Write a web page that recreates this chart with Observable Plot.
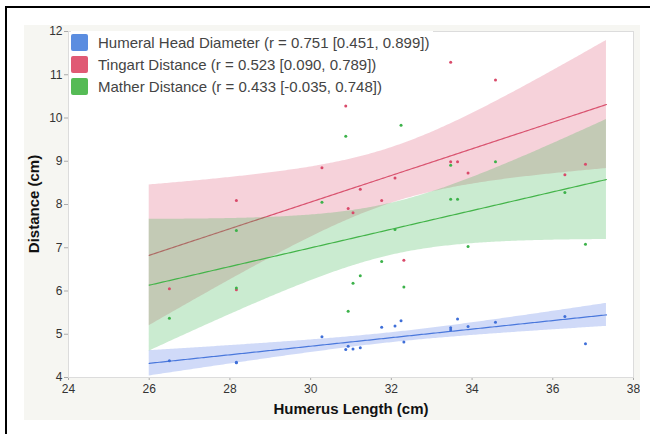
<!DOCTYPE html>
<html>
<head>
<meta charset="utf-8">
<script src="https://cdn.jsdelivr.net/npm/d3@7"></script>
<script src="https://cdn.jsdelivr.net/npm/@observablehq/plot@0.6"></script>
<style>
  html, body { margin: 0; padding: 0; background: #fff; }
  body { width: 650px; height: 434px; position: relative; overflow: hidden; font-family: "Liberation Sans", Arial, Helvetica, sans-serif; }
  #border { position: absolute; left: 5px; top: 6px; width: 700px; height: 500px; border-left: 2.5px solid #000; border-top: 2.5px solid #000; }
  #panel { position: absolute; left: 24px; top: 25px; width: 616px; height: 395px; background: #f6f6f2; }
  #chart { position: absolute; left: 24px; top: 25px; }
  #chart svg [aria-label="x-axis tick"], #chart svg [aria-label="y-axis tick"] { stroke: #aaa; }
  #chart svg .tick line { stroke: #aaa; }
  #legend { position: absolute; left: 71px; top: 31px; background: #fff; padding-right: 4px; }
  .row { display: flex; align-items: center; height: 22px; font-size: 15px; color: #444; }
  .sw { width: 17px; height: 17px; border-radius: 2px; margin-right: 10px; }
  #ytitle { position: absolute; left: 33px; top: 204px; transform: translate(-50%, -50%) rotate(-90deg); font-weight: bold; font-size: 15px; color: #111; white-space: nowrap; }
  #xtitle { position: absolute; left: 351px; top: 408px; transform: translate(-50%, -50%); font-weight: bold; font-size: 15px; color: #111; white-space: nowrap; }
</style>
</head>
<body>
<div id="border"></div>
<div id="panel"></div>
<div id="chart"></div>
<div id="ytitle">Distance (cm)</div>
<div id="xtitle">Humerus Length (cm)</div>
<div id="legend"></div>
<script>
// ---- data ----
const humerusLength = [26.50, 28.16, 28.16, 30.28, 30.87, 30.93, 31.05, 31.23, 31.76, 32.09, 32.24, 32.31, 33.47, 33.47, 33.64, 33.90, 34.58, 36.30, 36.81];
const humeralHead   = [4.39, 4.34, 4.35, 4.94, 4.65, 4.72, 4.66, 4.69, 5.16, 5.19, 5.31, 4.82, 5.15, 5.10, 5.35, 5.18, 5.28, 5.41, 4.78];
const tingart       = [6.05, 8.09, 6.03, 8.85, 10.28, 7.91, 7.81, 8.35, 8.09, 8.61, 11.40, 6.71, 11.29, 8.99, 8.99, 8.73, 10.88, 8.69, 8.93];
const mather        = [5.37, 7.40, 6.07, 8.05, 9.58, 5.53, 6.18, 6.35, 6.68, 7.42, 9.83, 6.09, 8.91, 8.12, 8.12, 7.03, 8.99, 8.28, 7.08];

const seriesNames  = ["Humeral Head Diameter", "Tingart Distance", "Mather Distance"];
const seriesLabels = ["Humeral Head Diameter (r = 0.751 [0.451, 0.899])", "Tingart Distance (r = 0.523 [0.090, 0.789])", "Mather Distance (r = 0.433 [-0.035, 0.748])"];
const swatchColors = ["#5b8de0", "#e05a74", "#55bb55"];
const pointColors  = ["#3f6fd8", "#d94a6a", "#3cb24a"];
const lineColors   = ["#4a78dc", "#d9536f", "#44b44a"];
const bandColors   = ["#5078e6", "#dc5a78", "#3cb450"];
const xTicks = [24, 26, 28, 30, 32, 34, 36, 38];
const yTicks = [4, 5, 6, 7, 8, 9, 10, 11, 12];
const fitDomain = [26, 37.33];
const tCrit = 2.110; // t(0.975, df = 17)

const values = [humeralHead, tingart, mather];

// least-squares fit with 95% confidence band of the mean
function fitSeries(xs, ys, name) {
  const I = d3.range(xs.length).filter(i => ys[i] != null);
  const n = I.length;
  const mx = d3.mean(I, i => xs[i]), my = d3.mean(I, i => ys[i]);
  const sxx = d3.sum(I, i => (xs[i] - mx) ** 2);
  const sxy = d3.sum(I, i => (xs[i] - mx) * (ys[i] - my));
  const b = sxy / sxx, a = my - b * mx;
  const sse = d3.sum(I, i => (ys[i] - a - b * xs[i]) ** 2);
  const s = Math.sqrt(sse / (n - 2));
  const grid = d3.range(fitDomain[0], fitDomain[1], 0.05).concat([fitDomain[1]]);
  return grid.map(x => {
    const yh = a + b * x;
    const h = tCrit * s * Math.sqrt(1 / n + (x - mx) ** 2 / sxx);
    return {series: name, x, y: yh, lo: yh - h, hi: yh + h};
  });
}

const points = [];
values.forEach((ys, k) => ys.forEach((y, i) => { if (y != null) points.push({series: seriesNames[k], k, x: humerusLength[i], y}); }));
const fits = values.map((ys, k) => fitSeries(humerusLength, ys, seriesNames[k]));

const marks = [Plot.frame({fill: "#fff", stroke: "#dcdcdc"})];
fits.forEach((f, k) => {
  marks.push(Plot.areaY(f, {x: "x", y1: "lo", y2: "hi", fill: bandColors[k], fillOpacity: 0.27}));
  marks.push(Plot.line(f, {x: "x", y: "y", stroke: lineColors[k], strokeWidth: 1.2}));
});
marks.push(Plot.dot(points, {x: "x", y: "y", r: 1.5, fill: d => pointColors[d.k], stroke: "none"}));

const chart = Plot.plot({
  width: 616, height: 395,
  marginLeft: 44, marginRight: 7, marginTop: 6, marginBottom: 43,
  style: {background: "transparent", fontFamily: "'Liberation Sans', Arial, sans-serif", fontSize: "12px", color: "#333"},
  x: {domain: [24, 38], ticks: xTicks, tickSize: 3, tickPadding: 4, label: null},
  y: {domain: [4, 12], ticks: yTicks, tickSize: 4, tickPadding: 2, label: null},
  marks
});
document.getElementById("chart").appendChild(chart);

// legend
const lg = document.getElementById("legend");
seriesLabels.forEach((t, k) => {
  const row = document.createElement("div"); row.className = "row";
  const sw = document.createElement("div"); sw.className = "sw"; sw.style.background = swatchColors[k];
  const tx = document.createElement("span"); tx.textContent = t;
  row.appendChild(sw); row.appendChild(tx); lg.appendChild(row);
});
</script>
</body>
</html>
